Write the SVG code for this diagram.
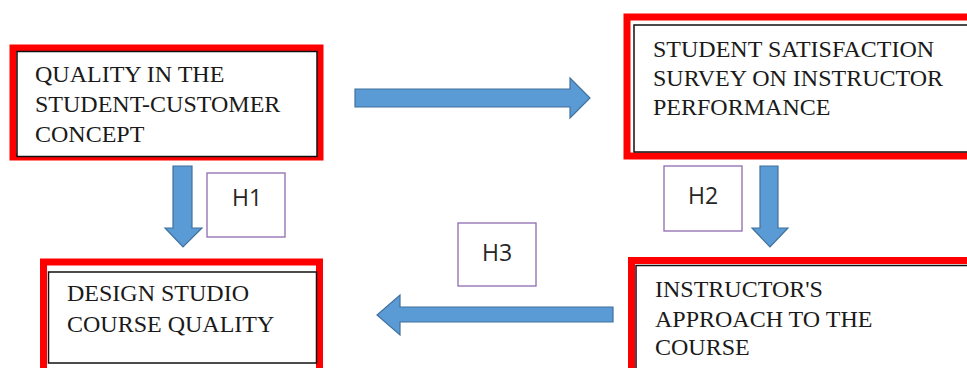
<svg xmlns="http://www.w3.org/2000/svg" width="967" height="368" viewBox="0 0 967 368">
<style>
.red{fill:none;stroke:#FF0000;stroke-width:7}
.blk{fill:#FFFFFF;stroke:#111111;stroke-width:1.5}
.t{font-family:"Liberation Serif","Times New Roman",serif;font-size:24px;fill:#1a1a1a}
.h{fill:#FFFFFF;stroke:#8E6BB0;stroke-width:1.3}
.ht{font-family:"Open Sans","Liberation Sans",Arial,sans-serif;font-size:23px;fill:#262626;text-anchor:middle}
.arr{fill:#5B9BD5;stroke:#41719C;stroke-width:1.2}
</style>
<rect width="967" height="368" fill="#FFFFFF"/>
<g id="node-quality">
<rect class="red" x="13" y="48" width="307" height="109"/>
<rect class="blk" x="17" y="51.5" width="300" height="105"/>
<text class="t" x="35" y="82">QUALITY IN THE</text>
<text class="t" x="35" y="112">STUDENT-CUSTOMER</text>
<text class="t" x="35" y="142">CONCEPT</text>
</g>
<g id="node-survey">
<rect class="red" x="627" y="17" width="360" height="139"/>
<rect class="blk" x="634" y="25" width="345" height="127"/>
<text class="t" x="653" y="57">STUDENT SATISFACTION</text>
<text class="t" x="653" y="86">SURVEY ON INSTRUCTOR</text>
<text class="t" x="653" y="115">PERFORMANCE</text>
</g>
<g id="node-design">
<rect class="red" x="43.5" y="262" width="276" height="120"/>
<rect class="blk" x="48.5" y="272" width="268" height="91"/>
<text class="t" x="67" y="301">DESIGN STUDIO</text>
<text class="t" x="67" y="332">COURSE QUALITY</text>
</g>
<g id="node-approach">
<rect class="red" x="631.5" y="260.5" width="360" height="120"/>
<rect class="blk" x="636" y="265.5" width="345" height="110"/>
<text class="t" x="655" y="297">INSTRUCTOR'S</text>
<text class="t" x="655" y="327">APPROACH TO THE</text>
<text class="t" x="655" y="355">COURSE</text>
</g>
<g id="label-h1">
<rect class="h" x="207" y="173" width="78" height="64"/>
<text class="ht" x="247" y="206">H1</text>
</g>
<g id="label-h2">
<rect class="h" x="664" y="166" width="78" height="65"/>
<text class="ht" x="703" y="204">H2</text>
</g>
<g id="label-h3">
<rect class="h" x="458" y="223" width="78" height="63"/>
<text class="ht" x="497" y="261">H3</text>
</g>
<g id="connectors">
<polygon class="arr" points="355,89 570,89 570,78 590,98 570,118 570,107 355,107"/>
<polygon class="arr" points="613,307 400,307 400,295 377,315 400,335 400,322 613,322"/>
<polygon class="arr" points="173,166 192,166 192,228 202,228 183,247 165,228 173,228"/>
<polygon class="arr" points="760,166 778,166 778,228 788,228 770,247 752,228 760,228"/>
</g>
</svg>
